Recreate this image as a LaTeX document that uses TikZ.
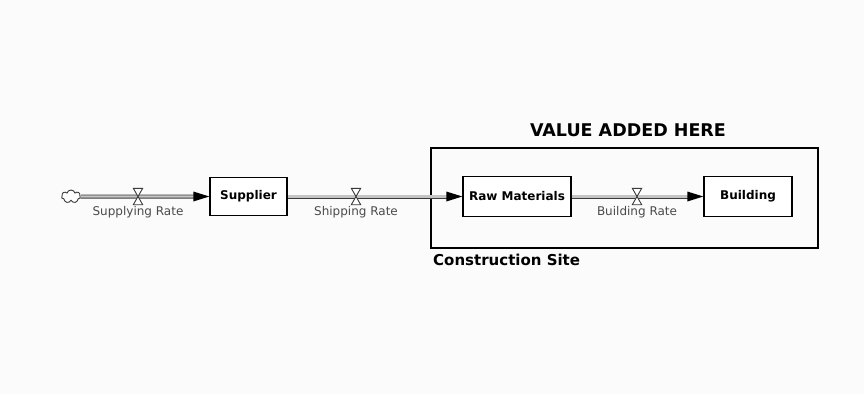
\documentclass[tikz,border=0pt]{standalone}
\usepackage{fontspec}
\setmainfont{DejaVu Sans}
\usetikzlibrary{arrows.meta,shapes.symbols,decorations.markings}
\definecolor{pipeedge}{HTML}{3A3A3A}
\definecolor{pipecore}{HTML}{C4C4C4}
\definecolor{ratetext}{HTML}{4A4A4A}
\definecolor{paper}{HTML}{FBFBFB}

\begin{document}
\begin{tikzpicture}[x=1pt,y=-1pt,
  stock/.style={draw, line width=1.4pt, fill=white, inner sep=0,
    font=\bfseries\fontsize{12}{14}\selectfont, minimum height=40pt},
  pipe/.style={draw=pipeedge, line width=0.9pt, double=pipecore,
    double distance=2.2pt, shorten >=13pt},
  flowtip/.style={postaction={decorate}, decoration={markings,
    mark=at position 1 with {\fill[black] (0,0) -- (-16pt,5pt) -- (-16pt,-5pt) -- cycle;}}},
  valve/.style={minimum width=9pt, minimum height=16pt, inner sep=0},
  valveshape/.style={draw=pipeedge, line width=0.9pt, fill=white, line join=miter},
  ratelabel/.style={text=ratetext, inner sep=0, font=\fontsize{12}{14}\selectfont},
  source/.style={cloud, cloud puffs=7, draw=pipeedge, line width=0.9pt, fill=white,
    minimum width=19pt, minimum height=13pt, inner sep=0, aspect=1.4},
  heading/.style={inner sep=0, font=\bfseries\fontsize{17.5}{20}\selectfont},
  caption/.style={inner sep=0, font=\bfseries\fontsize{15}{18}\selectfont}
]
% canvas
\fill[paper] (0,0) rectangle (864,394);
\useasboundingbox (0,0) rectangle (864,394);

% region enclosing the on-site stocks
\draw[line width=1.3pt] (431,148) rectangle (818,248);
\node[heading] (title) at (628,130) {VALUE ADDED HERE};
\node[caption, anchor=west] (site) at (433,259.5) {Construction Site};

% stocks and source, all on one row
\node[source] (src) at (71,196.5) {};
\node[stock, minimum width=77pt, minimum height=38pt] (supplier) at (248.5,196.5) {Supplier};
\node[stock, minimum width=108pt] (raw) at (517,196.5) {Raw Materials};
\node[stock, minimum width=88pt] (bld) at (748,196.5) {Building};

% valve positions on each flow
\node[valve] (v1) at (138,196.5) {};
\node[valve] (v2) at (356,196.5) {};
\node[valve] (v3) at (637,196.5) {};

% flow pipes
\draw[pipe] (src) -- (v1.center) -- (supplier);
\draw[pipe] (supplier) -- (v2.center) -- (raw);
\draw[pipe] (raw) -- (v3.center) -- (bld);
\path[flowtip] (v1.center) -- (supplier);
\path[flowtip] (v2.center) -- (raw);
\path[flowtip] (v3.center) -- (bld);

% valves
\foreach \v in {v1,v2,v3}
  \draw[valveshape] (\v.north west) -- (\v.north east) -- (\v.south west) -- (\v.south east) -- cycle;

% flow rate labels
\node[ratelabel, anchor=north] (r1) at ([yshift=-1.5pt]v1.south) {Supplying Rate};
\node[ratelabel, anchor=north] (r2) at ([yshift=-1.5pt]v2.south) {Shipping Rate};
\node[ratelabel, anchor=north] (r3) at ([yshift=-1.5pt]v3.south) {Building Rate};
\end{tikzpicture}
\end{document}
